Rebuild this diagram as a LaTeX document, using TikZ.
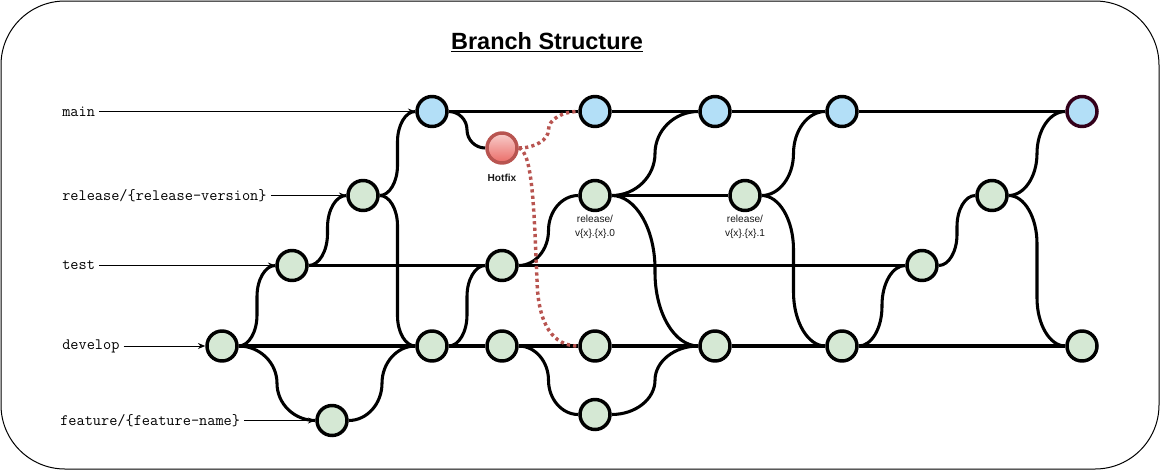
\documentclass[tikz,border=0pt]{standalone}
\usepackage{fontspec}
\setmainfont{Liberation Sans}
\usetikzlibrary{calc,arrows.meta,backgrounds}
\definecolor{gfill}{HTML}{D5E8D4}
\definecolor{bfill}{HTML}{B3DFF7}
\definecolor{hred}{HTML}{B85450}
\definecolor{htop}{HTML}{F8CECC}
\definecolor{hbot}{HTML}{EA6B66}
\definecolor{mstroke}{HTML}{33001A}
\begin{document}
\begin{tikzpicture}[x=0.75pt,y=-0.75pt,
  commit/.style={circle, draw=black, line width=2.6pt, minimum size=22.5pt, inner sep=0pt},
  gc/.style={commit, fill=gfill},
  bc/.style={commit, fill=bfill},
  edge/.style={line width=2.3pt, black},
  hot/.style={line width=2.6pt, hred, dash pattern=on 2.4pt off 2.4pt},
  lbl/.style={font=\ttfamily\fontsize{11.9}{13}\selectfont, anchor=west, inner sep=3pt},
  ptr/.style={-{Stealth[length=5.5pt,width=4.5pt]}, line width=0.75pt},
  ctext/.style={font=\fontsize{7.6}{10.5}\selectfont, align=center, text=black!90, inner sep=0pt},
  sc/.style={to path={
    let \p1=(\tikztostart), \p2=(\tikztotarget),
        \n1={(\x1+\x2)/2}, \n2={(\x2-\x1)/2},
        \n3={min(1.7*\n2, abs(\y2-\y1)/2)*(\y2-\y1)/abs(\y2-\y1)}
    in .. controls ({\x1+0.55*\n2*1pt}, \y1) and ({\n1*1pt}, {\y1+0.45*\n3*1pt}) .. ({\n1*1pt}, {\y1+\n3*1pt})
       -- ({\n1*1pt}, {\y2-\n3*1pt})
       .. controls ({\n1*1pt}, {\y2-0.45*\n3*1pt}) and ({\x2-0.55*\n2*1pt}, \y2) .. (\tikztotarget) \tikztonodes}}
]
\useasboundingbox (0,0) rectangle (1161,472);
\draw[line width=0.75pt, rounded corners=48pt] (1,1) rectangle (1159,469);

\node (title) at (547,42) {\fontsize{17.6}{20}\selectfont\bfseries\underline{Branch Structure}};

% commits
\node[bc] (M1) at (432,111.5) {};
\node[bc] (M2) at (595,111.5) {};
\node[bc] (M3) at (715,111.5) {};
\node[bc] (M4) at (842,111.5) {};
\node[bc, draw=mstroke] (M5) at (1082,111.5) {};
\node[commit, draw=hred, top color=htop, bottom color=hbot] (H) at (502,148) {};
\node[gc] (R1) at (363,195.5) {};
\node[gc] (R2) at (595,195.5) {};
\node[gc] (R3) at (745,195.5) {};
\node[gc] (R4) at (992,195.5) {};
\node[gc] (T1) at (292,265.5) {};
\node[gc] (T2) at (502,265.5) {};
\node[gc] (T3) at (922,265.5) {};
\node[gc] (D1) at (222,346) {};
\node[gc] (D2) at (432,346) {};
\node[gc] (D3) at (502,346) {};
\node[gc] (D4) at (595,346) {};
\node[gc] (D5) at (715,346) {};
\node[gc] (D6) at (842,346) {};
\node[gc] (D7) at (1082,346) {};
\node[gc] (F1) at (332,420.5) {};
\node[gc] (F2) at (595,414.5) {};
\coordinate (hmid) at (537,280);

% commit labels
\node[ctext, font=\fontsize{7.6}{10.5}\selectfont\bfseries] (hl) at (502,178) {Hotfix};
\node[ctext] (r2l) at (595,227) {release/\\v\{x\}.\{x\}.0};
\node[ctext] (r3l) at (745,227) {release/\\v\{x\}.\{x\}.1};

% branch labels
\node[lbl] (lm) at (58,111.5) {main};
\node[lbl] (lr) at (58,195.5) {release/\{release-version\}};
\node[lbl] (lt) at (58,265.5) {test};
\node[lbl] (ld) at (58,346) {develop};
\node[lbl] (lf) at (56,420.5) {feature/\{feature-name\}};
\draw[ptr] (lm.east) -- (M1.west);
\draw[ptr] (lr.east) -- (R1.west);
\draw[ptr] (lt.east) -- (T1.west);
\draw[ptr] (ld.east) -- (D1.west);
\draw[ptr] (lf.east) -- (F1.west);

\begin{pgfonlayer}{background}
\draw[edge] (M1) -- (M2) -- (M3) -- (M4) -- (M5);
\draw[edge] (T1) -- (T2) -- (T3);
\draw[edge] (D1) -- (D2) -- (D3) -- (D4) -- (D5) -- (D6) -- (D7);
\draw[edge] (R2) -- (R3);
\draw[edge] (D1.east) to[sc] (T1.west);
\draw[edge] (D1.east) to[sc] (F1.west);
\draw[edge] (F1.east) to[sc] (D2.west);
\draw[edge] (T1.east) to[sc] (R1.west);
\draw[edge] (R1.east) to[sc] (M1.west);
\draw[edge] (R1.east) to[sc] (D2.west);
\draw[edge] (M1.east) to[sc] (H.west);
\draw[edge] (D2.east) to[sc] (T2.west);
\draw[edge] (T2.east) to[sc] (R2.west);
\draw[edge] (D3.east) to[sc] (F2.west);
\draw[edge] (F2.east) to[sc] (D5.west);
\draw[edge] (R2.east) to[sc] (M3.west);
\draw[edge] (R2.east) to[sc] (D5.west);
\draw[edge] (R3.east) to[sc] (M4.west);
\draw[edge] (R3.east) to[sc] (D6.west);
\draw[edge] (D6.east) to[sc] (T3.west);
\draw[edge] (T3.east) to[sc] (R4.west);
\draw[edge] (R4.east) to[sc] (M5.west);
\draw[edge] (R4.east) to[sc] (D7.west);
\draw[hot] (H.east) to[sc] (M2.west);
\draw[hot] (H.east) .. controls +(14,4) and +(-3,-70) .. (hmid)
  .. controls +(1,45) and +(-25,0) .. (D4.west);
\end{pgfonlayer}
\end{tikzpicture}
\end{document}
